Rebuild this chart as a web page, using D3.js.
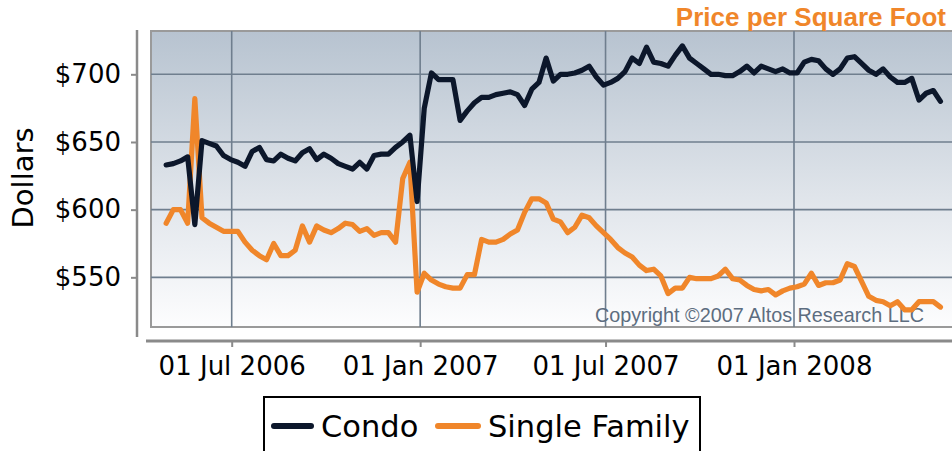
<!DOCTYPE html>
<html>
<head>
<meta charset="utf-8">
<script src="https://cdn.jsdelivr.net/npm/d3@7"></script>
<style>
  body { margin: 0; background: #fff; }
  svg { display: block; }
</style>
</head>
<body>
<script>
// ---- data ----
const seriesNames = ["Condo", "Single Family"];
const startDate = "2006-04-28"; // first weekly observation (Friday)
const condo = [633,634,636,639,589,651,649,647,640,637,635,632,643,646,637,636,641,638,636,642,
  645,637,641,638,634,632,630,635,630,640,641,641,646,650,655,606,675,701,696,696,
  696,666,673,679,683,683,685,686,687,685,677,689,694,712,695,700,700,701,703,706,
  698,692,694,697,702,712,708,720,709,708,706,714,721,712,708,704,700,700,699,699,
  702,706,701,706,704,702,704,701,701,709,711,710,704,700,704,712,713,708,703,700,
  704,698,694,694,697,681,686,688,680];
const singleFamily = [590,600,600,590,682,594,590,587,584,584,584,576,570,566,563,575,566,566,570,588,
  576,588,585,583,586,590,589,584,586,581,583,583,576,623,635,539,553,548,545,543,
  542,542,552,552,578,576,576,578,582,585,598,608,608,605,593,591,583,587,596,594,
  588,583,578,572,568,565,559,555,556,551,538,542,542,550,549,549,549,551,556,549,
  548,544,541,540,541,537,540,542,543,545,553,544,546,546,548,560,558,547,536,533,
  532,529,532,526,526,532,532,532,528];
const yTicks = [550, 600, 650, 700];
const xTickDates = ["2006-07-01", "2007-01-01", "2007-07-01", "2008-01-01"];
const titleText = "Price per Square Foot";
const copyrightText = "Copyright \u00A92007 Altos Research LLC";
const yLabel = "Dollars";

// ---- setup ----
const W = 952, H = 451;
const plot = { left: 151, top: 31, right: 962, bottom: 327 };
const colors = { condo: "#0c172b", sf: "#f0862a" };

const parse = d3.utcParse("%Y-%m-%d");
const t0 = parse(startDate);
const dates = condo.map((_, i) => d3.utcDay.offset(t0, 7 * i));

const x = d3.scaleUtc()
  .domain([parse("2006-07-01"), parse("2008-01-01")])
  .range([231.7, 794]);
const y = d3.scaleLinear()
  .domain([513.3, 732])
  .range([plot.bottom, plot.top]);

const svg = d3.select("body").append("svg").attr("width", W).attr("height", H);

const defs = svg.append("defs");
const grad = defs.append("linearGradient").attr("id", "bg").attr("x1", 0).attr("y1", 0).attr("x2", 0).attr("y2", 1);
grad.append("stop").attr("offset", "0%").attr("stop-color", "#b7c3d0");
grad.append("stop").attr("offset", "55%").attr("stop-color", "#dfe4ea");
grad.append("stop").attr("offset", "100%").attr("stop-color", "#fdfdfe");

// plot background
svg.append("rect")
  .attr("x", plot.left).attr("y", plot.top)
  .attr("width", plot.right - plot.left).attr("height", plot.bottom - plot.top)
  .attr("fill", "url(#bg)")
  .attr("stroke", "#9a9a9a").attr("stroke-width", 2);

// grid
const grid = svg.append("g");
grid.selectAll("line.h").data(yTicks).join("line")
  .attr("x1", plot.left).attr("x2", plot.right)
  .attr("y1", d => y(d)).attr("y2", d => y(d))
  .attr("stroke", "#6f7e8e").attr("stroke-width", 1.6);
grid.selectAll("line.v").data(xTickDates.map(parse)).join("line")
  .attr("x1", d => x(d)).attr("x2", d => x(d))
  .attr("y1", plot.top).attr("y2", plot.bottom)
  .attr("stroke", "#6f7e8e").attr("stroke-width", 1.6);

// copyright
svg.append("text")
  .attr("x", 924).attr("y", 322)
  .attr("text-anchor", "end")
  .attr("font-family", "Liberation Sans, Arial, sans-serif")
  .attr("font-size", 19.8)
  .attr("fill", "#5d6d80")
  .text(copyrightText);

// lines
const line = d3.line().x((d, i) => x(dates[i])).y(d => y(d));
svg.append("path").datum(singleFamily)
  .attr("d", line).attr("fill", "none")
  .attr("stroke", colors.sf).attr("stroke-width", 5.2)
  .attr("stroke-linejoin", "round").attr("stroke-linecap", "round");
svg.append("path").datum(condo)
  .attr("d", line).attr("fill", "none")
  .attr("stroke", colors.condo).attr("stroke-width", 5.2)
  .attr("stroke-linejoin", "round").attr("stroke-linecap", "round");

// y axis
const yAxis = d3.axisLeft(y).tickValues(yTicks).tickSize(6).tickPadding(10)
  .tickFormat(d => "$" + d);
const gy = svg.append("g").attr("transform", "translate(137,0)").call(yAxis);
gy.select(".domain").remove();
gy.selectAll(".tick line").attr("stroke", "#8a8a8a").attr("stroke-width", 2);
gy.selectAll(".tick text").attr("font-family", "DejaVu Sans, sans-serif").attr("font-size", 26).attr("fill", "#000");
gy.append("line").attr("x1", 0).attr("x2", 0).attr("y1", 30).attr("y2", 337)
  .attr("stroke", "#8a8a8a").attr("stroke-width", 2.5);

// x axis
const xAxis = d3.axisBottom(x).tickValues(xTickDates.map(parse)).tickSize(6).tickPadding(10)
  .tickFormat(d3.utcFormat("%d %b %Y"));
const gx = svg.append("g").attr("transform", "translate(0,341)").call(xAxis);
gx.select(".domain").remove();
gx.selectAll(".tick line").attr("stroke", "#8a8a8a").attr("stroke-width", 2);
gx.selectAll(".tick text").attr("font-family", "DejaVu Sans, sans-serif").attr("font-size", 26).attr("fill", "#000");
gx.append("line").attr("x1", 146).attr("x2", W).attr("y1", 0).attr("y2", 0)
  .attr("stroke", "#8a8a8a").attr("stroke-width", 3);

// y label
svg.append("text")
  .attr("transform", "translate(33,178) rotate(-90)")
  .attr("text-anchor", "middle")
  .attr("font-family", "DejaVu Sans, sans-serif")
  .attr("font-size", 29)
  .attr("fill", "#000")
  .text(yLabel);

// title
svg.append("text")
  .attr("x", 946).attr("y", 26)
  .attr("text-anchor", "end")
  .attr("font-family", "Liberation Sans, Arial, sans-serif")
  .attr("font-weight", "bold")
  .attr("font-size", 26)
  .attr("fill", colors.sf)
  .text(titleText);

// legend
const lg = svg.append("g");
lg.append("rect").attr("x", 264).attr("y", 397).attr("width", 436).attr("height", 70)
  .attr("fill", "#fff").attr("stroke", "#000").attr("stroke-width", 2);
const legendItems = [
  { name: seriesNames[0], color: colors.condo, x0: 274, x1: 311, tx: 321 },
  { name: seriesNames[1], color: colors.sf, x0: 438, x1: 478, tx: 488 }
];
legendItems.forEach(it => {
  lg.append("line").attr("x1", it.x0).attr("x2", it.x1).attr("y1", 426).attr("y2", 426)
    .attr("stroke", it.color).attr("stroke-width", 6).attr("stroke-linecap", "round");
  lg.append("text").attr("x", it.tx).attr("y", 437)
    .attr("font-family", "DejaVu Sans, sans-serif").attr("font-size", 30.5).attr("fill", "#000")
    .text(it.name);
});
</script>
</body>
</html>
